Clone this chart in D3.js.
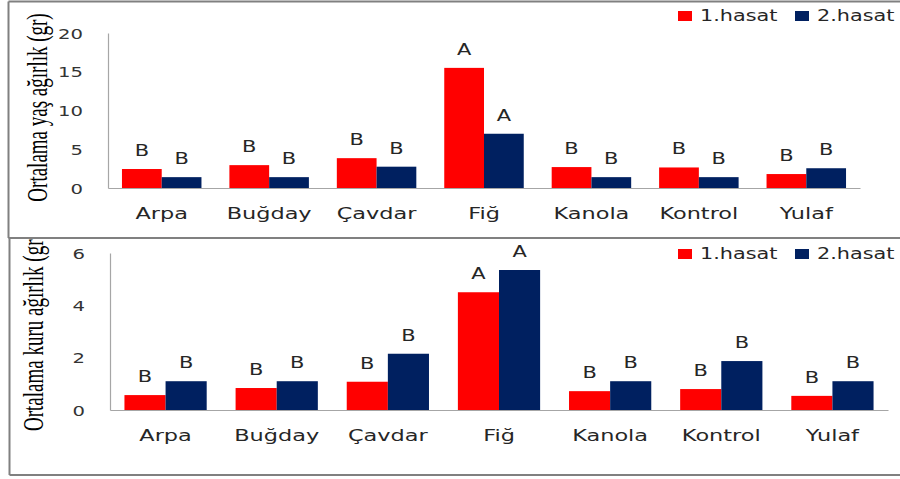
<!DOCTYPE html>
<html>
<head>
<meta charset="utf-8">
<script src="https://cdn.jsdelivr.net/npm/d3@7"></script>
<style>
  html, body { margin: 0; padding: 0; background: #fff; }
  svg { display: block; }
</style>
</head>
<body>
<svg id="chart" width="900" height="479"></svg>
<script>
// Crop categories and harvest series
const categories = ["Arpa", "Buğday", "Çavdar", "Fiğ", "Kanola", "Kontrol", "Yulaf"];
const seriesNames = ["1.hasat", "2.hasat"];

// Mean fresh weight (gr)
const wet1 = [2.45, 2.95, 3.85, 15.5, 2.7, 2.65, 1.8];
const wet2 = [1.4, 1.4, 2.75, 7.0, 1.4, 1.4, 2.55];
const wetLetters1 = ["B", "B", "B", "A", "B", "B", "B"];
const wetLetters2 = ["B", "B", "B", "A", "B", "B", "B"];
const wetTicks = [0, 5, 10, 15, 20];

// Mean dry weight (gr)
const dry1 = [0.57, 0.84, 1.08, 4.5, 0.72, 0.8, 0.54];
const dry2 = [1.1, 1.1, 2.15, 5.35, 1.1, 1.87, 1.1];
const dryLetters1 = ["B", "B", "B", "A", "B", "B", "B"];
const dryLetters2 = ["B", "B", "B", "A", "B", "B", "B"];
const dryTicks = [0, 2, 4, 6];

const colors = ["#ff0000", "#002060"];
const SX = 1.4; // horizontal glyph stretch
const FONT = "'DejaVu Sans', Verdana, sans-serif";

const svg = d3.select("#chart");

function panel(cfg) {
  const g = svg.append("g");
  const clipId = "clip" + cfg.id;
  svg.append("defs").append("clipPath").attr("id", clipId)
    .append("rect").attr("x", cfg.clip[0]).attr("y", cfg.clip[1])
    .attr("width", cfg.clip[2]).attr("height", cfg.clip[3]);
  const inner = g.append("g").attr("clip-path", `url(#${clipId})`);

  const x = d3.scaleBand().domain(categories).range(cfg.xRange)
    .paddingInner(0.26).paddingOuter(0.13);
  const x1 = d3.scaleBand().domain([0, 1]).range([0, x.bandwidth()]);
  const y = d3.scaleLinear().domain(cfg.yDomain).range(cfg.yRange);

  // axes
  const yAxis = inner.append("g").attr("transform", `translate(${cfg.xRange[0]},0)`)
    .call(d3.axisLeft(y).tickValues(cfg.ticks).tickFormat(d3.format("d"))
      .tickSize(0).tickPadding(0));
  yAxis.select(".domain").attr("stroke", "#a6a6a6").attr("stroke-width", 1.2);
  yAxis.selectAll(".tick text")
    .attr("x", 0).attr("dy", "0.36em")
    .attr("transform", `translate(-25,0) scale(${SX},1)`)
    .attr("font-family", FONT).attr("font-size", 14).attr("fill", "#333");

  const xAxis = inner.append("g").attr("transform", `translate(0,${cfg.yRange[0]})`)
    .call(d3.axisBottom(x).tickSize(0).tickPadding(0));
  xAxis.select(".domain").attr("stroke", "#a6a6a6").attr("stroke-width", 1.2);
  xAxis.selectAll(".tick text")
    .attr("y", 0).attr("dy", 0)
    .attr("transform", `translate(0,31) scale(${SX},1)`)
    .attr("font-family", FONT).attr("font-size", 16).attr("fill", "#262626");

  // bars and letter labels
  [cfg.s1, cfg.s2].forEach((vals, si) => {
    const letters = si === 0 ? cfg.l1 : cfg.l2;
    inner.append("g").selectAll("rect").data(vals).join("rect")
      .attr("x", (d, i) => x(categories[i]) + x1(si))
      .attr("width", x1.bandwidth())
      .attr("y", d => y(d))
      .attr("height", d => y(0) - y(d))
      .attr("fill", colors[si]);
    inner.append("g").selectAll("text").data(vals).join("text")
      .attr("transform", (d, i) =>
        `translate(${x(categories[i]) + x1(si) + x1.bandwidth() / 2},${y(d) - 13}) scale(${SX},1)`)
      .attr("text-anchor", "middle")
      .attr("font-family", FONT).attr("font-size", 15).attr("fill", "#262626")
      .text((d, i) => letters[i]);
  });

  // y title
  inner.append("text")
    .attr("transform", `translate(${cfg.titleX},${cfg.titleY}) scale(1.5,1) rotate(-90)`)
    .attr("text-anchor", cfg.titleAnchor)
    .attr("font-family", "'Liberation Serif', 'Times New Roman', serif")
    .attr("font-size", 19).attr("fill", "#000")
    .text(cfg.title);

  // legend
  const lg = inner.append("g");
  const legX = [678, 795];
  seriesNames.forEach((n, i) => {
    lg.append("rect").attr("x", legX[i]).attr("y", cfg.legY - 9)
      .attr("width", 14).attr("height", 10).attr("fill", colors[i]);
    lg.append("text")
      .attr("transform", `translate(${legX[i] + 22},${cfg.legY + 1}) scale(1.3,1)`)
      .attr("font-family", FONT).attr("font-size", 16).attr("fill", "#262626")
      .text(n);
  });

  return g;
}

panel({
  id: 1, clip: [9, 2, 891, 235],
  xRange: [108, 860], yDomain: [0, 20], yRange: [188, 33], ticks: wetTicks,
  s1: wet1, s2: wet2, l1: wetLetters1, l2: wetLetters2,
  title: "Ortalama yaş ağırlık (gr)", titleX: 47, titleY: 107.5, titleAnchor: "middle",
  legY: 20
});

panel({
  id: 2, clip: [10, 239, 890, 235],
  xRange: [110, 888], yDomain: [0, 6], yRange: [410, 253], ticks: dryTicks,
  s1: dry1, s2: dry2, l1: dryLetters1, l2: dryLetters2,
  title: "Ortalama kuru ağırlık (gr)", titleX: 43, titleY: 431, titleAnchor: "start",
  legY: 258
});

// panel frames
const frame = svg.append("g").attr("stroke", "#808080").attr("stroke-width", 2).attr("fill", "none");
frame.append("path").attr("d", "M8.5,1.5H900 M8.5,1.5V238 M8.5,238H900");
frame.append("path").attr("d", "M9.5,238V475 M9.5,475H900");
</script>
</body>
</html>
